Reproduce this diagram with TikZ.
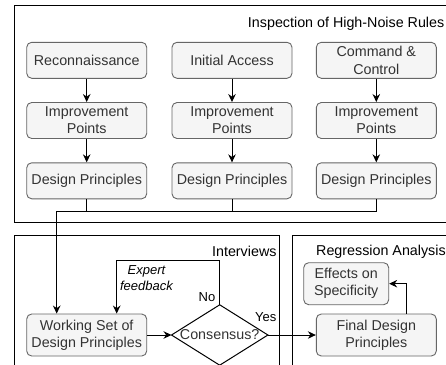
\documentclass[tikz,border=0pt]{standalone}
\usepackage{fontspec}
\setmainfont{Liberation Sans}
\usetikzlibrary{arrows.meta}
\definecolor{cstroke}{HTML}{666666}
\definecolor{cfill}{HTML}{F5F5F5}
\definecolor{ctext}{HTML}{333333}
\begin{document}
\begin{tikzpicture}[x=1pt,y=-1pt,
  box/.style={draw=cstroke, fill=cfill, rounded corners=5pt, minimum width=120pt, minimum height=36pt,
    align=center, text=ctext, inner sep=0pt, line width=0.9pt, font=\fontsize{14.3}{17.2}\selectfont},
  tallbox/.style={box, minimum height=42pt},
  container/.style={draw=black, line width=1pt},
  title/.style={inner sep=0pt, text=black, font=\fontsize{14.3}{17.2}\selectfont},
  lab/.style={inner sep=0pt, text=black, align=center, font=\fontsize{13}{15.6}\selectfont},
  conn/.style={draw=black, line width=1pt},
  arrow/.style={conn, -{Stealth[length=8pt,width=7.5pt]}}]
\useasboundingbox (0,0) rectangle (446,364);
\clip (0,0) rectangle (446,364);
\fill[white] (0,0) rectangle (446,364);
% containers
\draw[container] (14,5) rectangle (452,222.7);
\draw[container] (14,235) rectangle (279.3,372);
\draw[container] (292,235) rectangle (452,372);
\node[title, anchor=east] (t1) at (444.5,24) {Inspection of High-Noise Rules};
\node[title, anchor=east] (t2) at (276.7,251.7) {Interviews};
\node[title, anchor=west] (t3) at (316,251.7) {Regression Analysis};
% top columns
\node[box] (r1) at (86.7,60.3) {Reconnaissance};
\node[box] (r2) at (232,60.3) {Initial Access};
\node[box] (r3) at (376.3,60.3) {Command \&\\Control};
\node[box] (i1) at (86.7,120.5) {Improvement\\Points};
\node[box] (i2) at (232,120.5) {Improvement\\Points};
\node[box] (i3) at (376.3,120.5) {Improvement\\Points};
\node[box] (d1) at (86.7,180.8) {Design Principles};
\node[box] (d2) at (232,180.8) {Design Principles};
\node[box] (d3) at (376.3,180.8) {Design Principles};
\foreach \c in {1,2,3} {
  \draw[arrow] (r\c) -- (i\c);
  \draw[arrow] (i\c) -- (d\c);
}
% bottom
\node[tallbox] (work) at (86.7,335) {Working Set of\\Design Principles};
\node[inner sep=0pt, minimum width=96pt, minimum height=60pt, text=ctext,
  font=\fontsize{14.3}{17.2}\selectfont] (cons) at (219.7,335) {Consensus?};
\draw[conn] (cons.north) -- (cons.east) -- (cons.south) -- (cons.west) -- cycle;
\node[tallbox] (fin) at (376.3,335) {Final Design\\Principles};
\node[tallbox, minimum width=85pt] (eff) at (346.2,283.7) {Effects on\\Specificity};
% connectors
\coordinate (j0) at (56.7,211);
\draw[conn] (d1.south) |- (j0);
\draw[conn] (d2.south) |- (j0);
\draw[conn] (d3.south) |- (j0);
\draw[arrow] (j0) -- (j0 |- work.north);
\coordinate (fb) at (116.7,260);
\draw[arrow] (cons.north) |- (fb) -- (fb |- work.north);
\draw[arrow] (work.east) -- (cons.west);
\draw[arrow] (cons.east) -- (fin.west);
\coordinate (fe) at (406.7,283.7);
\draw[arrow] (fin.north -| fe) -- (fe) -- (eff.east);
% labels
\node[lab, font=\fontsize{13}{15.6}\selectfont\itshape] (lfb) at (146.5,277.8) {Expert\\feedback};
\node[lab] (lno) at (207,296.7) {No};
\node[lab] (lyes) at (265.7,316.7) {Yes};
\end{tikzpicture}
\end{document}
